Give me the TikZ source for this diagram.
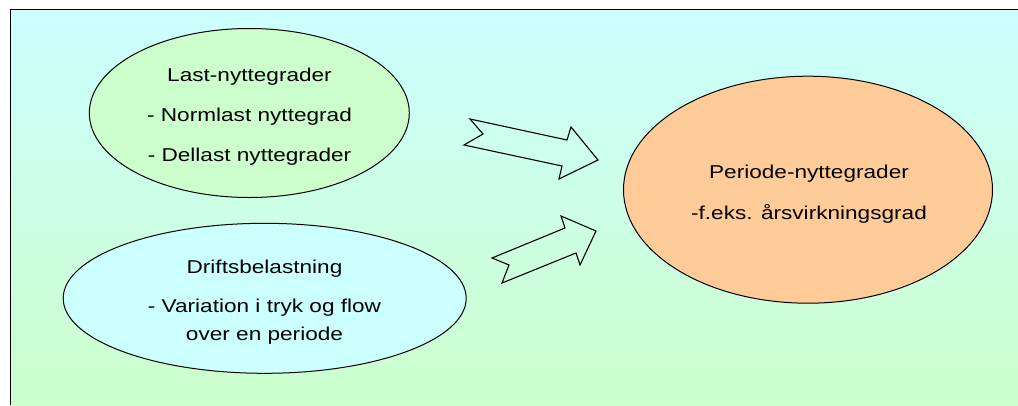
\documentclass[tikz,border=0pt]{standalone}
\usepackage{fontspec}
\setmainfont{Liberation Sans}
\usetikzlibrary{shapes.geometric}
\definecolor{bgtop}{HTML}{CCFFFF}
\definecolor{bgbot}{HTML}{CCFFCC}
\definecolor{greenfill}{HTML}{CCFFCC}
\definecolor{bluefill}{HTML}{CCFFFF}
\definecolor{orangefill}{HTML}{FFCC99}
\newcommand\stx[1]{\scalebox{1.215}[1]{#1}}
\tikzset{
  blob/.style={ellipse, draw=black, line width=1pt, inner sep=0pt},
  lbl/.style={anchor=base, inner sep=0pt, font=\fontsize{18.6}{22}\selectfont},
  blockarrow/.style={draw=black, line width=1.1pt, line join=miter}
}
\begin{document}
\begin{tikzpicture}[x=1pt,y=-1pt]
\useasboundingbox (0,0) rectangle (1018,405);
\shade[top color=bgtop, bottom color=bgbot] (10,9) rectangle (1018,405);
\draw[line width=1pt] (10,405) -- (10,9) -- (1018,9);

\node[blob, fill=greenfill, minimum width=320pt, minimum height=169pt] (last) at (249.3,113) {};
\node[blob, fill=bluefill, minimum width=403pt, minimum height=150pt] (drift) at (264.7,298.3) {};
\node[blob, fill=orangefill, minimum width=369pt, minimum height=227pt] (periode) at (808,189.7) {};

\node[lbl] (t1) at (249.5,81.7) {\stx{Last-nyttegrader}};
\node[lbl] (t2) at (249.5,121.7) {\stx{- Normlast nyttegrad}};
\node[lbl] (t3) at (249.5,161) {\stx{- Dellast nyttegrader}};

\node[lbl] (d1) at (264.5,273) {\stx{Driftsbelastning}};
\node[lbl] (d2) at (264.5,312.7) {\stx{- Variation i tryk og flow}};
\node[lbl] (d3) at (264.5,340) {\stx{over en periode}};

\node[lbl] (p1) at (809,178) {\stx{Periode-nyttegrader}};
\node[lbl] (p2) at (809,219) {\stx{-f.eks. årsvirkningsgrad}};

\draw[blockarrow] (470,119) -- (483,134) -- (464,145) -- (562,166) -- (559,179) -- (598,160) -- (571,127) -- (567,140) -- cycle;
\draw[blockarrow] (492,258) -- (509,265) -- (502,283) -- (576,253) -- (580,265) -- (596,231) -- (561,216) -- (565,228) -- cycle;
\end{tikzpicture}
\end{document}
